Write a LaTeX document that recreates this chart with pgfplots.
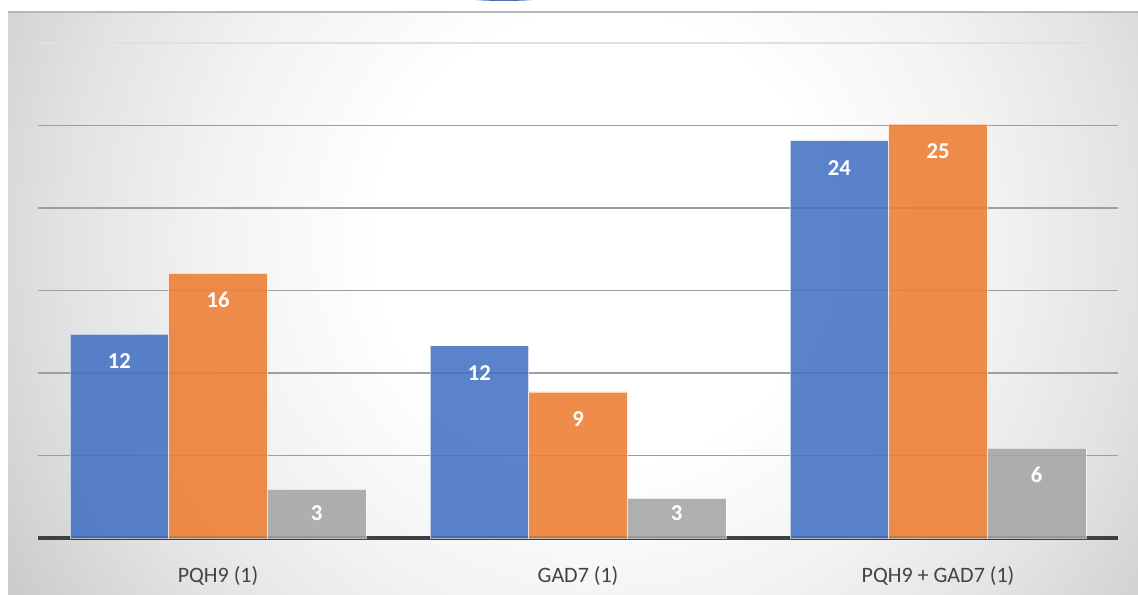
\documentclass[border=0pt]{standalone}
\usepackage{pgfplots}
\pgfplotsset{compat=1.18}
\usepackage{fontspec}
\setmainfont{Carlito}

\definecolor{cblue}{HTML}{4472C4}
\definecolor{corange}{HTML}{ED7D31}
\definecolor{cgray}{HTML}{A5A5A5}
\definecolor{labgray}{HTML}{444444}

% soft radial background, white in the middle, grey at the edges
\pgfdeclareradialshading{panelbg}{\pgfpoint{0bp}{0bp}}{%
  color(0bp)=(white); color(8bp)=(white); color(14bp)=(black!5);
  color(19bp)=(black!11); color(25bp)=(black!21); color(31bp)=(black!26);
  color(50bp)=(black!30)}

\begin{document}
\begin{tikzpicture}[x=0.75pt,y=0.75pt]
\useasboundingbox (-38,-56) rectangle (1100,538);
\begin{scope}
  \clip (-30,-56) rectangle (1100,526);
  \shade[shading=panelbg] (-138,-400) rectangle (1262,1000);
\end{scope}
\draw[black!28, line width=1.5pt] (-30,526) -- (1100,526);
\fill[color={rgb,255:red,85;green,112;blue,170}] (466,541) ellipse (43 and 4);

\begin{axis}[
  at={(0,0)}, anchor=south west,
  scale only axis,
  width=810pt, height=371.25pt,
  xmin=-0.5, xmax=2.5,
  ymin=0, ymax=30,
  axis x line*=bottom,
  axis y line*=left,
  y axis line style={draw=none},
  x axis line style={-, line width=3pt, color=black!75},
  xtick={0,1,2},
  xticklabels={PQH9 (1), GAD7 (1), PQH9 + GAD7 (1)},
  xtick style={draw=none},
  xticklabel style={anchor=center, yshift=-24.5pt, text=labgray,
    font=\fontsize{16.5}{19}\selectfont},
  ytick={5,10,15,20,25},
  yticklabels={},
  ytick style={draw=none},
  extra y ticks={30},
  extra y tick labels={},
  extra y tick style={grid style={color=black!12, line width=1pt}},
  ymajorgrids,
  grid style={color=black!38, line width=1.1pt},
  ybar=0pt,
  bar width=0.274,
  point meta=explicit symbolic,
  visualization depends on={y \as \rawy},
  nodes near coords,
  nodes near coords style={anchor=center,
    yshift={-min(20.25,12.375*\rawy-18.75)}, text=white,
    font=\bfseries\fontsize{17}{19}\selectfont},
  every axis plot/.append style={draw=white, draw opacity=0.6,
    line width=0.6pt, fill opacity=0.88, text opacity=1},
]
\addplot[fill=cblue] coordinates {(0,12.36) [12] (1,11.65) [12] (2,24.08) [24]};
\addplot[fill=corange] coordinates {(0,16.04) [16] (1,8.85) [9] (2,25.09) [25]};
\addplot[fill=cgray] coordinates {(0,2.95) [3] (1,2.4) [3] (2,5.44) [6]};
\end{axis}
\end{tikzpicture}
\end{document}
